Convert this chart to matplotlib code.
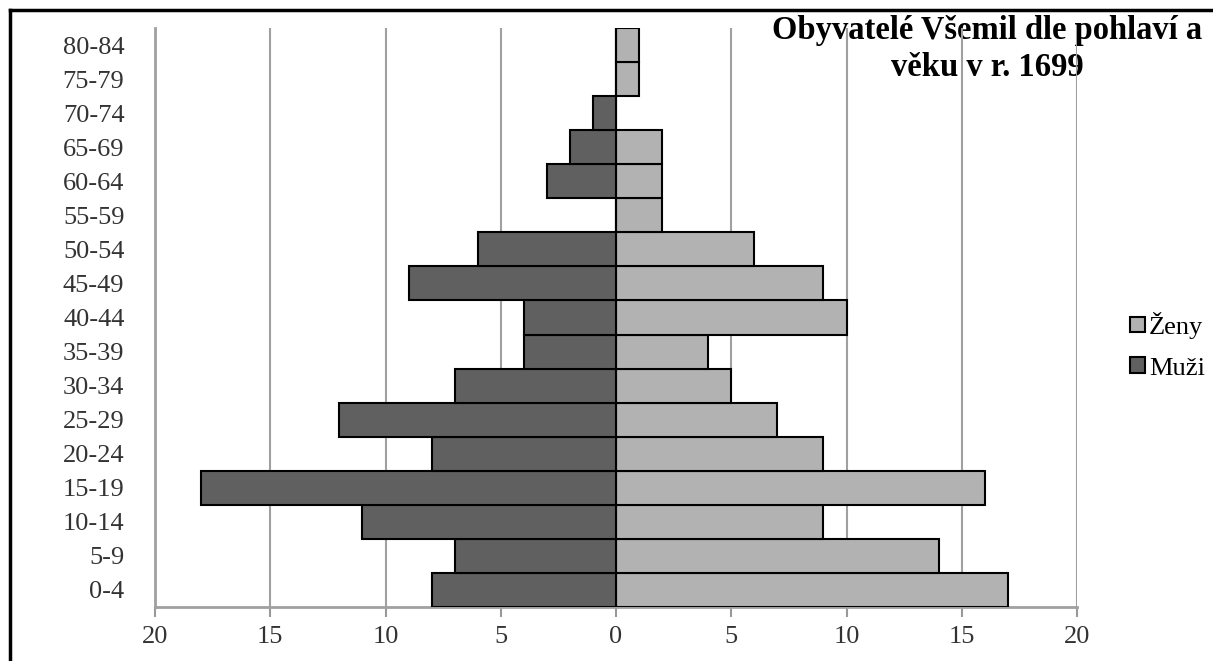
import matplotlib.pyplot as plt
from matplotlib.lines import Line2D

vekove_skupiny = ['0-4', '5-9', '10-14', '15-19', '20-24', '25-29', '30-34',
                  '35-39', '40-44', '45-49', '50-54', '55-59', '60-64',
                  '65-69', '70-74', '75-79', '80-84']
muzi = [8, 7, 11, 18, 8, 12, 7, 4, 4, 9, 6, 0, 3, 2, 1, 0, 0]
zeny = [17, 14, 9, 16, 9, 7, 5, 4, 10, 9, 6, 2, 2, 2, 0, 1, 1]
x_ticks = [-20, -15, -10, -5, 0, 5, 10, 15, 20]
x_labels = ['20', '15', '10', '5', '0', '5', '10', '15', '20']

plt.rcParams['font.family'] = ['Liberation Serif', 'DejaVu Serif']

fig = plt.figure(figsize=(12.13, 6.61), dpi=100)
ax = fig.add_axes([0.1278, 0.0817, 0.7601, 0.8759])
ax.patch.set_alpha(0)

pozice = range(len(vekove_skupiny))
ax.barh(pozice, zeny, height=1.0, color='#b2b2b2', edgecolor='black',
        linewidth=1.5, label='Ženy', zorder=3)
ax.barh(pozice, [-m for m in muzi], height=1.0, color='#606060',
        edgecolor='black', linewidth=1.5, label='Muži', zorder=3)

ax.set_xlim(-20, 20)
ax.set_ylim(-0.5, 16.5)
ax.set_xticks(x_ticks)
ax.set_xticklabels(x_labels, fontsize=19, color='#333333')
ax.set_yticks(list(pozice))
ax.set_yticklabels(vekove_skupiny, fontsize=19, color='#333333')
ax.tick_params(axis='y', length=0, pad=22)
ax.tick_params(axis='x', length=7, width=1.5, color='#999999', pad=7)
ax.xaxis.grid(True, color='#a0a0a0', linewidth=1.5, zorder=0)
for s in ['top', 'right']:
    ax.spines[s].set_visible(False)
for s in ['left', 'bottom']:
    ax.spines[s].set_color('#a0a0a0')
    ax.spines[s].set_linewidth(2)

# titulek pod mrizkou jako v originale
fig.text(0.814, 0.978, 'Obyvatelé Všemil dle pohlaví a\nvěku v r. 1699',
         ha='center', va='top', fontsize=23.5, fontweight='bold',
         linespacing=1.25, zorder=-1)

h, l = ax.get_legend_handles_labels()
fig.legend(h, l, loc='center left', bbox_to_anchor=(0.921, 0.477),
           frameon=False, fontsize=19, handlelength=0.55, handleheight=0.55,
           handletextpad=0.15, labelspacing=0.7, borderpad=0)

fig.add_artist(Line2D([0.008, 0.008], [0, 0.985], color='black', linewidth=2.5,
                      transform=fig.transFigure))
fig.add_artist(Line2D([0.008, 1.0], [0.985, 0.985], color='black', linewidth=2.5,
                      transform=fig.transFigure))

fig.savefig('out.png', dpi=100)
